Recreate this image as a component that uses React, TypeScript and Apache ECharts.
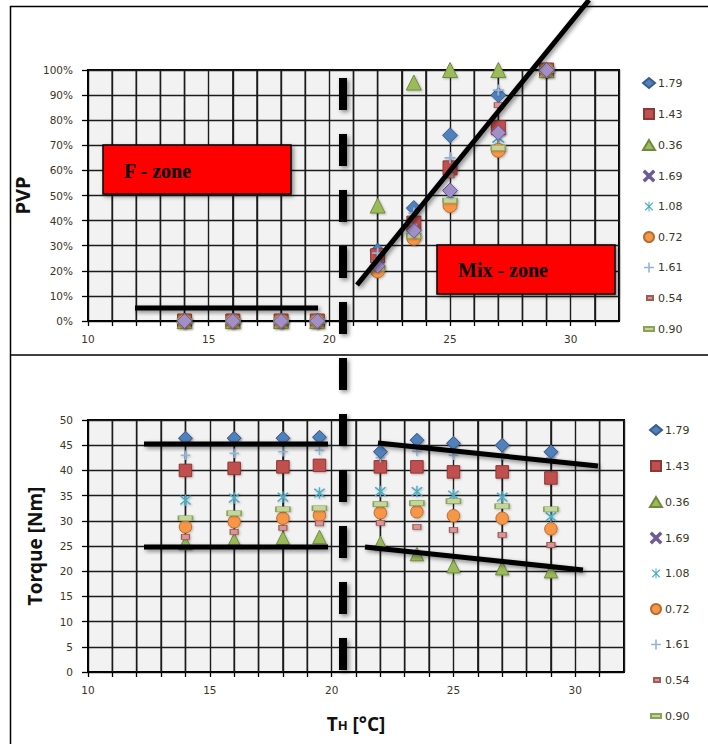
import React, { useEffect, useRef } from 'react';
import * as echarts from 'echarts';

// ---------- data ----------
const seriesNames = ['1.79', '1.43', '0.36', '1.69', '1.08', '0.72', '1.61', '0.54', '0.90'];
const temperatures = [14, 16, 18, 19.5, 22, 23.5, 25, 27, 29];
const xGridValues = [11, 12, 13, 14, 16, 17, 18, 19, 21, 22, 23, 24, 26, 27, 28, 29, 31];

// PVP [%]
const pvp179 = [0, 0, 0, 0, 28, 45, 74, 90, 100];
const pvp143 = [0, 0, 0, 0, 26, 39, 61, 77, 100];
const pvp036 = [0, 0, 0, 0, 46, 95, 100, 100, 100];
const pvp169 = [0, 0, 0, 0, 22, 36, 52, 75, 100];
const pvp108 = [0, 0, 0, 0, 22, 35, 50, 73, 100];
const pvp072 = [0, 0, 0, 0, 20, 33, 46, 68, 100];
const pvp161 = [0, 0, 0, 0, 27, 43, 65, 92, 100];
const pvp054 = [0, 0, 0, 0, 24, 38, 58, 86, 100];
const pvp090 = [0, 0, 0, 0, 21, 34, 48, 69, 100];

// Torque [Nm]
const tq179 = [46.4, 46.4, 46.4, 46.6, 43.7, 46.0, 45.4, 45.0, 43.7];
const tq143 = [40.0, 40.4, 40.7, 41.0, 40.7, 40.7, 39.7, 39.7, 38.5];
const tq036 = [25.6, 26.2, 26.6, 26.8, 25.6, 23.4, 21.0, 20.6, 20.0];
const tq169 = [46.4, 46.4, 46.4, 46.6, 43.7, 46.0, 45.4, 45.0, 43.7];
const tq108 = [34.1, 34.5, 34.7, 35.5, 35.8, 35.8, 35.1, 34.7, 30.8];
const tq072 = [28.8, 29.8, 30.5, 31.1, 31.6, 31.8, 31.0, 30.5, 28.4];
const tq161 = [43.0, 43.4, 43.7, 44.0, 42.5, 43.8, 43.0, 43.0, 42.5];
const tq054 = [26.8, 27.8, 28.6, 29.5, 29.6, 28.8, 28.2, 27.2, 25.2];
const tq090 = [30.5, 31.5, 32.3, 32.5, 33.3, 33.5, 33.9, 32.9, 32.3];

const pvpSeries = [pvp179, pvp143, pvp036, pvp169, pvp108, pvp072, pvp161, pvp054, pvp090];
const torqueSeries = [tq179, tq143, tq036, tq169, tq108, tq072, tq161, tq054, tq090];

// ---------- styles ----------
const X_PATH = 'path://M1,0L5,4L9,0L10,1L6,5L10,9L9,10L5,6L1,10L0,9L4,5L0,1Z';
const ASTER_PATH = 'path://M1,0L5,4L9,0L10,1L6,5L10,9L9,10L5,6L1,10L0,9L4,5L0,1Z M4.4,-1H5.6V11H4.4Z';
const PLUS_PATH = 'path://M4.2,0H5.8V4.2H10V5.8H5.8V10H4.2V5.8H0V4.2H4.2Z';
const LEG_SMALL = 'path://M0,0L0,0M12,10L12,10M4,3H10V7H4Z';
const LEG_LONG = 'path://M0,0L0,0M12,10L12,10M1,3H11V7H1Z';
const LEG_SQUARE = 'path://M0,0L0,0M12,10L12,10M1,0H11V10H1Z';

type St = { symbol: string; legendIcon: string; color: string; border: string; size: number | number[]; bw: number };
const styles: St[] = [
  { symbol: 'diamond', legendIcon: 'diamond', color: '#4f81bd', border: '#385d8a', size: 15, bw: 1 },
  { symbol: 'rect', legendIcon: LEG_SQUARE, color: '#c0504d', border: '#8c3836', size: 14, bw: 1 },
  { symbol: 'triangle', legendIcon: 'triangle', color: '#9bbb59', border: '#71893f', size: 15, bw: 1 },
  { symbol: 'diamond', legendIcon: X_PATH, color: '#a190c8', border: '#6d5a96', size: 15, bw: 1 },
  { symbol: ASTER_PATH, legendIcon: ASTER_PATH, color: '#4bacc6', border: '#4bacc6', size: 13, bw: 0 },
  { symbol: 'circle', legendIcon: 'circle', color: '#f79646', border: '#b66d31', size: 14, bw: 1 },
  { symbol: PLUS_PATH, legendIcon: PLUS_PATH, color: '#95b3d7', border: '#95b3d7', size: 11, bw: 0 },
  { symbol: 'rect', legendIcon: LEG_SMALL, color: '#d99694', border: '#a05a58', size: [8, 5], bw: 1 },
  { symbol: 'rect', legendIcon: LEG_LONG, color: '#c3d69b', border: '#8aa356', size: [14, 5], bw: 1 },
];

const labelColor = '#3d3526';
const gridLine = { color: '#1c1c1c', width: 1.4 };
const tickFont = { fontFamily: 'DejaVu Sans', fontSize: 10.5, color: labelColor };
const gridBoxes = [
  { left: 88, top: 70, width: 531, height: 251 },
  { left: 88, top: 420, width: 536, height: 252 },
];
const X_MIN = 10;
const X_MAX = 32;

function buildSeries(values: number[][], gridIdx: number, top: boolean) {
  return values.map((arr, i) => {
    const st = styles[i];
    let size: any = st.size;
    if (!top && typeof size === 'number') size = size - 1.5;
    let z = 3;
    if (top && i === 3) z = 5;
    if (!top && i === 0) z = 4;
    return {
      name: seriesNames[i],
      type: 'scatter',
      xAxisIndex: gridIdx,
      yAxisIndex: gridIdx,
      symbol: st.symbol,
      symbolSize: size,
      clip: false,
      z,
      itemStyle: {
        color: st.color,
        borderColor: st.border,
        borderWidth: st.bw,
        opacity: 1,
        shadowBlur: 2,
        shadowColor: 'rgba(0,0,0,0.25)',
        shadowOffsetX: 1,
        shadowOffsetY: 1,
      },
      data: temperatures.map((t, k) => [t, arr[k]]),
    };
  });
}

function legendOf(left: number, top: number, gap: number) {
  return {
    orient: 'vertical',
    left,
    top,
    itemWidth: 12,
    itemHeight: 10,
    itemGap: gap,
    selectedMode: false,
    textStyle: { fontFamily: 'DejaVu Sans', fontSize: 11, color: labelColor, padding: [0, 0, 0, -2] },
    data: seriesNames.map((n, i) => ({ name: n, icon: styles[i].legendIcon })),
  };
}

const shadow = { shadowBlur: 4, shadowColor: 'rgba(0,0,0,0.45)', shadowOffsetX: 2, shadowOffsetY: 2 };

function slantLine(x1: number, y1: number, x2: number, y2: number, w = 5) {
  return {
    type: 'line',
    z: 100,
    shape: { x1, y1, x2, y2 },
    style: { stroke: '#000', lineWidth: w, ...shadow },
  };
}
function bar(x: number, y: number, width: number, height: number) {
  return {
    type: 'rect',
    z: 100,
    shape: { x, y, width, height },
    style: { fill: '#000', ...shadow },
  };
}

// vertical dashed boundary: 11 dashes, period 56px
const dashes = Array.from({ length: 11 }, (_, k) => bar(339, 78 + 56 * k, 8, 32));

const overlay: any[] = [
  { type: 'line', z: 90, shape: { x1: 10, y1: 6.5, x2: 708, y2: 6.5 }, style: { stroke: '#000', lineWidth: 1.5 } },
  { type: 'line', z: 90, shape: { x1: 10.5, y1: 6, x2: 10.5, y2: 744 }, style: { stroke: '#000', lineWidth: 1.5 } },
  { type: 'line', z: 90, shape: { x1: 10, y1: 355, x2: 708, y2: 355 }, style: { stroke: '#000', lineWidth: 1.5 } },
  {
    type: 'rect', z: 50, shape: { x: 103, y: 145, width: 188, height: 49 },
    style: { fill: '#ff0000', stroke: '#000', lineWidth: 1.5, ...shadow },
  },
  {
    type: 'text', z: 51, x: 124, y: 171,
    style: { text: 'F - zone', fill: '#000', font: 'bold 20px "Liberation Serif"', verticalAlign: 'middle' },
  },
  {
    type: 'rect', z: 50, shape: { x: 437, y: 245, width: 178, height: 49 },
    style: { fill: '#ff0000', stroke: '#000', lineWidth: 1.5, ...shadow },
  },
  {
    type: 'text', z: 51, x: 458, y: 270,
    style: { text: 'Mix - zone', fill: '#000', font: 'bold 20px "Liberation Serif"', verticalAlign: 'middle' },
  },
  bar(135, 305.5, 183, 5),
  slantLine(357, 285, 589, 0, 5),
  bar(144, 441.5, 184, 5),
  bar(144, 544.5, 184, 5),
  slantLine(378, 443, 598, 466),
  slantLine(365, 547, 583, 570),
  ...dashes,
];

export default function App() {
  const ref = useRef<HTMLDivElement>(null);
  useEffect(() => {
    document.body.style.margin = '0';
    const chart = echarts.init(ref.current!, null, { renderer: 'svg' });
    const xAxisOf = (gridIndex: number) => ({
      type: 'value',
      gridIndex,
      min: X_MIN,
      max: X_MAX,
      interval: 1,
      minInterval: 1,
      maxInterval: 1,
      axisLine: { show: true, onZero: false, lineStyle: { color: '#000', width: 1.5 } },
      axisTick: { show: true, length: 5, lineStyle: { color: '#000', width: 1.3 } },
      axisLabel: {
        margin: 12,
        ...tickFont,
        showMaxLabel: false,
        formatter: (v: number) => (v % 5 === 0 ? String(v) : ''),
      },
      splitLine: { show: true, lineStyle: gridLine },
    });
    const option: any = {
      animation: false,
      backgroundColor: '#ffffff',
      grid: gridBoxes.map((g) => ({ ...g, show: true, backgroundColor: '#f2f2f2', borderColor: '#000', borderWidth: 2 })),
      xAxis: [
        xAxisOf(0),
        {
          ...xAxisOf(1),
          name: '{t|T}{h|H}{t| [°C]}',
          nameLocation: 'middle',
          nameGap: 37,
          nameTextStyle: {
            rich: {
              t: { fontSize: 19, fontWeight: 'bold', fontFamily: 'Open Sans', color: '#111', verticalAlign: 'bottom', lineHeight: 24 },
              h: { fontSize: 13, fontWeight: 'bold', fontFamily: 'Open Sans', color: '#111', verticalAlign: 'bottom', lineHeight: 21, padding: [0, 0, 2, 0] },
            },
          },
        },
      ],
      yAxis: [
        {
          type: 'value',
          gridIndex: 0,
          min: 0,
          max: 100,
          interval: 10,
          name: 'PVP',
          nameLocation: 'middle',
          nameGap: 47,
          nameTextStyle: { fontSize: 20, fontWeight: 'bold', fontFamily: 'Open Sans', color: '#111' },
          axisLine: { show: true, lineStyle: { color: '#000', width: 1.5 } },
          axisTick: { show: true, length: 6, lineStyle: { color: '#000', width: 1.3 } },
          axisLabel: { margin: 15, formatter: '{value}%', ...tickFont },
          splitLine: { show: true, lineStyle: gridLine },
        },
        {
          type: 'value',
          gridIndex: 1,
          min: 0,
          max: 50,
          interval: 5,
          name: 'Torque [Nm]',
          nameLocation: 'middle',
          nameGap: 44,
          nameTextStyle: { fontSize: 19, fontWeight: 'bold', fontFamily: 'Open Sans', color: '#111' },
          axisLine: { show: true, lineStyle: { color: '#000', width: 1.5 } },
          axisTick: { show: true, length: 6, lineStyle: { color: '#000', width: 1.3 } },
          axisLabel: { margin: 15, ...tickFont },
          splitLine: { show: true, lineStyle: gridLine },
        },
      ],
      legend: [legendOf(637, 72, 19), legendOf(644, 419, 24)],
      series: [...buildSeries(pvpSeries, 0, true), ...buildSeries(torqueSeries, 1, false)],
      graphic: overlay,
    };
    chart.setOption(option);

    // extra 1-unit vertical grid lines, placed with each grid's x scale
    const vLines: any[] = [];
    gridBoxes.forEach((g, gi) => {
      xGridValues.forEach((v) => {
        let px: any = chart.convertToPixel({ xAxisIndex: gi } as any, v);
        if (Array.isArray(px)) px = px[0];
        if (typeof px !== 'number' || !isFinite(px)) {
          px = g.left + ((v - X_MIN) / (X_MAX - X_MIN)) * g.width;
        }
        vLines.push({
          type: 'rect',
          z: 2.5,
          silent: true,
          shape: { x: px - gridLine.width / 2, y: g.top, width: gridLine.width, height: g.height },
          style: { fill: gridLine.color },
        });
      });
    });
    chart.setOption({ graphic: [...overlay, ...vLines] });
    return () => chart.dispose();
  }, []);
  return <div ref={ref} style={{ width: 708, height: 744, background: '#fff' }} />;
}
